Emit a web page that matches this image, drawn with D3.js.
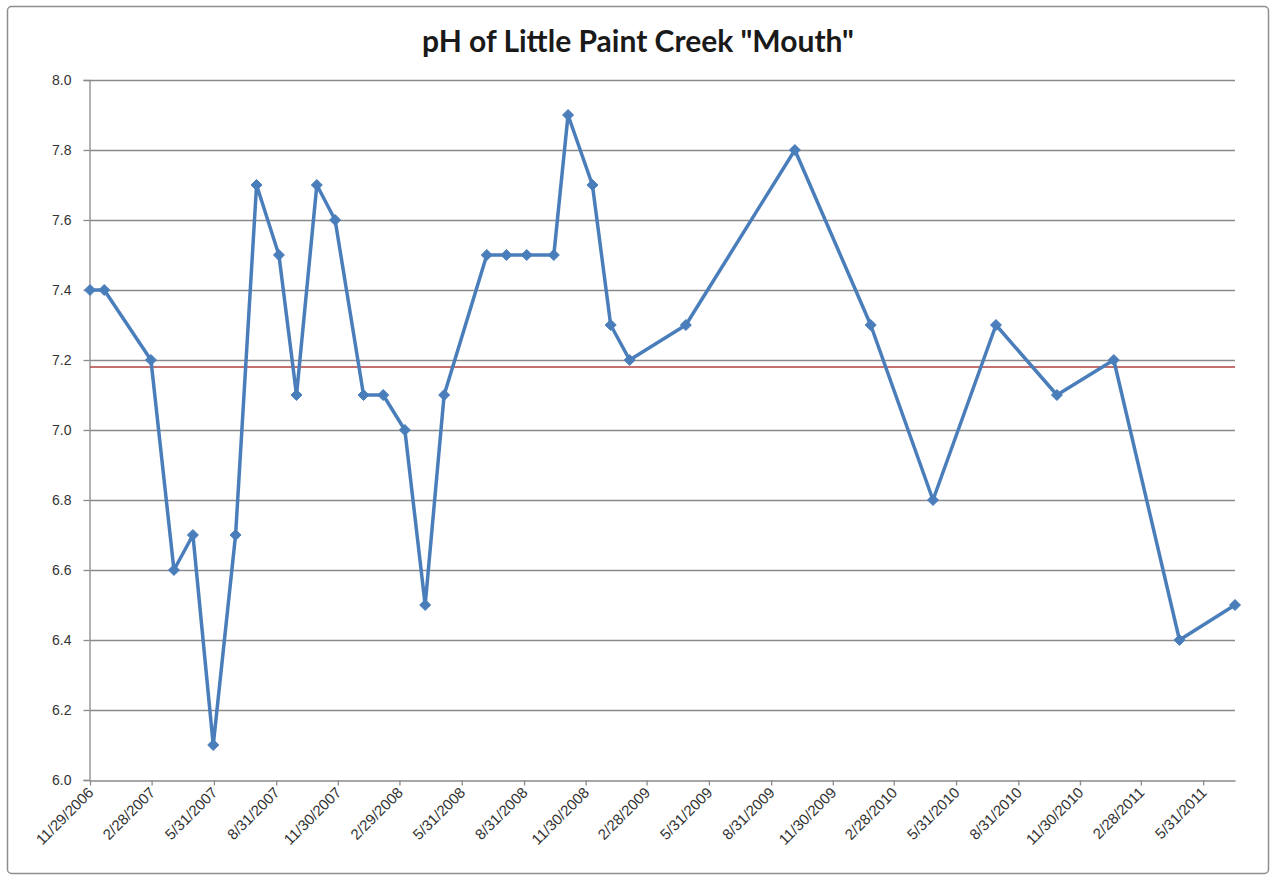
<!DOCTYPE html>
<html>
<head>
<meta charset="utf-8">
<script src="https://cdn.jsdelivr.net/npm/d3@7"></script>
<style>
  html, body { margin: 0; padding: 0; background: #fff; }
  svg { display: block; font-family: Lato, "Open Sans", sans-serif; }
</style>
</head>
<body>
<svg id="chart" width="1274" height="877"></svg>
<script>
// Sample dates and measured pH at the creek mouth
const sampleDates = [
  "11/29/2006", "12/20/2006", "2/27/2007", "4/2/2007", "4/30/2007", "5/30/2007",
  "7/2/2007", "8/2/2007", "9/4/2007", "9/30/2007", "10/30/2007", "11/26/2007",
  "1/7/2008", "2/5/2008", "3/8/2008", "4/7/2008", "5/5/2008", "7/7/2008",
  "8/5/2008", "9/4/2008", "10/14/2008", "11/4/2008", "12/10/2008", "1/6/2009",
  "2/3/2009", "4/27/2009", "10/5/2009", "1/25/2010", "4/27/2010", "7/29/2010",
  "10/27/2010", "1/19/2011", "4/26/2011", "7/17/2011"
];
const phValues = [
  7.4, 7.4, 7.2, 6.6, 6.7, 6.1,
  6.7, 7.7, 7.5, 7.1, 7.7, 7.6,
  7.1, 7.1, 7.0, 6.5, 7.1, 7.5,
  7.5, 7.5, 7.5, 7.9, 7.7, 7.3,
  7.2, 7.3, 7.8, 7.3, 6.8, 7.3,
  7.1, 7.2, 6.4, 6.5
];

// Horizontal reference level
const referencePh = 7.18;

// Axis ticks
const xTickLabels = [
  "11/29/2006", "2/28/2007", "5/31/2007", "8/31/2007", "11/30/2007",
  "2/29/2008", "5/31/2008", "8/31/2008", "11/30/2008", "2/28/2009",
  "5/31/2009", "8/31/2009", "11/30/2009", "2/28/2010", "5/31/2010",
  "8/31/2010", "11/30/2010", "2/28/2011", "5/31/2011"
];
const yTicks = [6.0, 6.2, 6.4, 6.6, 6.8, 7.0, 7.2, 7.4, 7.6, 7.8, 8.0];

const chartTitle = 'pH of Little Paint Creek "Mouth"';

const parse = d3.timeParse("%m/%d/%Y");
const fmt = d3.timeFormat("%-m/%-d/%Y");
const data = sampleDates.map((d, i) => ({ date: parse(d), ph: phValues[i] }));
const tickDates = xTickLabels.map(parse);

const svg = d3.select("#chart");
const plot = { left: 90, right: 1235, top: 80, bottom: 780 };

// Outer chart frame
svg.append("rect")
  .attr("x", 7.5).attr("y", 6.5)
  .attr("width", 1261).attr("height", 867)
  .attr("rx", 4)
  .attr("fill", "#fff")
  .attr("stroke", "#8e8e8e")
  .attr("stroke-width", 1.5);

const x = d3.scaleTime()
  .domain([data[0].date, data[data.length - 1].date])
  .range([plot.left, plot.right]);

const y = d3.scaleLinear()
  .domain([6.0, 8.0])
  .range([plot.bottom, plot.top]);

// Horizontal gridlines
svg.append("g")
  .selectAll("line")
  .data(yTicks.filter(v => v > 6.0))
  .join("line")
  .attr("x1", plot.left).attr("x2", plot.right)
  .attr("y1", d => Math.round(y(d)) + 0.5)
  .attr("y2", d => Math.round(y(d)) + 0.5)
  .attr("stroke", "#8a8a8a")
  .attr("stroke-width", 1.3);

// Y axis
const yAxis = svg.append("g")
  .attr("transform", `translate(${plot.left - 0.5},0)`)
  .call(d3.axisLeft(y).tickValues(yTicks).tickFormat(d3.format(".1f")).tickSize(6).tickPadding(12));
yAxis.select(".domain").attr("stroke", "#8a8a8a").attr("stroke-width", 1.3);
yAxis.selectAll(".tick line").attr("stroke", "#8a8a8a").attr("stroke-width", 1.3);
yAxis.selectAll(".tick text")
  .attr("fill", "#333")
  .style("font-size", "14px");

// X axis
const xAxis = svg.append("g")
  .attr("transform", `translate(0,${plot.bottom + 0.5})`)
  .call(d3.axisBottom(x).tickValues(tickDates).tickFormat(fmt).tickSize(5).tickSizeOuter(0));
xAxis.select(".domain").attr("stroke", "#8a8a8a").attr("stroke-width", 1.3);
xAxis.selectAll(".tick line").attr("stroke", "#8a8a8a").attr("stroke-width", 1.3);
xAxis.selectAll(".tick text")
  .attr("fill", "#333")
  .style("font-size", "15px")
  .attr("text-anchor", "end")
  .attr("dy", null)
  .attr("y", 0)
  .attr("transform", "translate(4,13) rotate(-45)");

// Reference line
svg.append("line")
  .attr("x1", plot.left).attr("x2", plot.right)
  .attr("y1", y(referencePh)).attr("y2", y(referencePh))
  .attr("stroke", "#b0413e")
  .attr("stroke-width", 1.5);

// pH series line
const line = d3.line().x(d => x(d.date)).y(d => y(d.ph));
svg.append("path")
  .datum(data)
  .attr("fill", "none")
  .attr("stroke", "#4a7ebb")
  .attr("stroke-width", 3.5)
  .attr("stroke-linejoin", "round")
  .attr("d", line);

// Diamond markers (square rotated 45 degrees)
const r = 5.5;
const diamondPath = `M0,${-r}L${r},0L0,${r}L${-r},0Z`;
svg.append("g")
  .selectAll("path")
  .data(data)
  .join("path")
  .attr("transform", d => `translate(${x(d.date)},${y(d.ph)})`)
  .attr("d", diamondPath)
  .attr("fill", "#4a7ebb")
  .attr("stroke", "#4a7ebb")
  .attr("stroke-width", 1);

// Title
svg.append("text")
  .attr("x", 638).attr("y", 52)
  .attr("text-anchor", "middle")
  .attr("fill", "#1a1a1a")
  .style("font-size", "30px")
  .style("font-weight", "bold")
  .text(chartTitle);
</script>
</body>
</html>
